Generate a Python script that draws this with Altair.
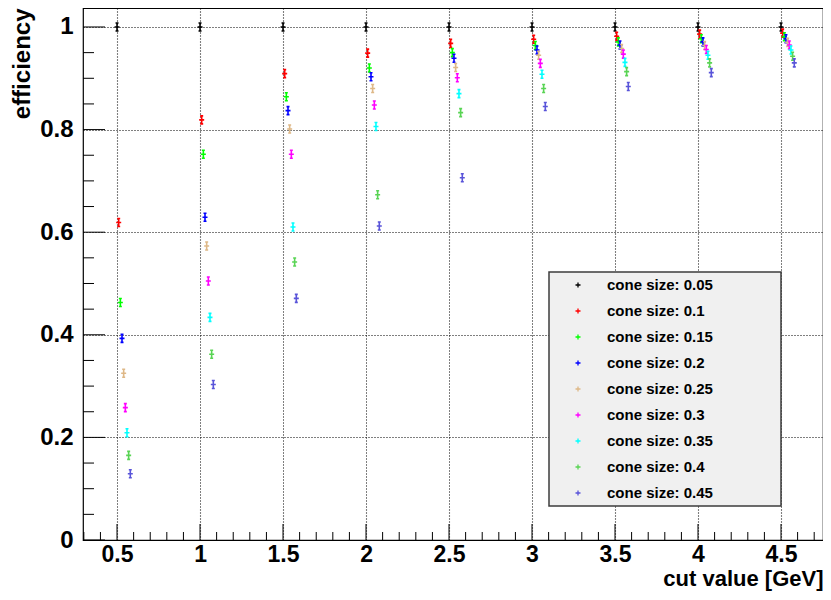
import altair as alt
import pandas as pd

# ---- data ----
cuts = [0.5, 1.0, 1.5, 2.0, 2.5, 3.0, 3.5, 4.0, 4.5]
cone_labels = ["cone size: 0.05", "cone size: 0.1", "cone size: 0.15", "cone size: 0.2",
               "cone size: 0.25", "cone size: 0.3", "cone size: 0.35", "cone size: 0.4",
               "cone size: 0.45"]
cone_offsets = [0.0, 0.01, 0.02, 0.03, 0.04, 0.05, 0.06, 0.07, 0.08]
colors = ["#000000", "#ff0000", "#00ff00", "#0000ff", "#deb887",
          "#ff00ff", "#00ffff", "#59d454", "#5954d9"]

eff_005 = [1.0, 1.0, 1.0, 1.0, 1.0, 1.0, 1.0, 1.0, 1.0]
eff_010 = [0.619, 0.819, 0.909, 0.949, 0.968, 0.976, 0.982, 0.986, 0.988]
eff_015 = [0.463, 0.752, 0.864, 0.920, 0.950, 0.964, 0.971, 0.977, 0.981]
eff_020 = [0.393, 0.629, 0.837, 0.903, 0.939, 0.955, 0.965, 0.971, 0.977]
eff_025 = [0.325, 0.573, 0.801, 0.880, 0.921, 0.945, 0.958, 0.964, 0.970]
eff_030 = [0.258, 0.505, 0.752, 0.848, 0.901, 0.929, 0.947, 0.956, 0.965]
eff_035 = [0.209, 0.434, 0.610, 0.806, 0.870, 0.908, 0.931, 0.945, 0.955]
eff_040 = [0.165, 0.362, 0.542, 0.673, 0.833, 0.880, 0.913, 0.930, 0.943]
eff_045 = [0.129, 0.303, 0.471, 0.612, 0.706, 0.845, 0.884, 0.911, 0.930]
series = [eff_005, eff_010, eff_015, eff_020, eff_025, eff_030, eff_035, eff_040, eff_045]

x_major = [0.5, 1, 1.5, 2, 2.5, 3, 3.5, 4, 4.5]
x_minor = [0.3, 0.4, 0.6, 0.7, 0.8, 0.9, 1.1, 1.2, 1.3, 1.4, 1.6, 1.7, 1.8, 1.9,
           2.1, 2.2, 2.3, 2.4, 2.6, 2.7, 2.8, 2.9, 3.1, 3.2, 3.3, 3.4, 3.6, 3.7,
           3.8, 3.9, 4.1, 4.2, 4.3, 4.4, 4.6, 4.7]
y_major = [0, 0.2, 0.4, 0.6, 0.8, 1]
y_minor = [0.05, 0.1, 0.15, 0.25, 0.3, 0.35, 0.45, 0.5, 0.55, 0.65, 0.7, 0.75,
           0.85, 0.9, 0.95]

rows = []
for lab, off, effs in zip(cone_labels, cone_offsets, series):
    for c, e in zip(cuts, effs):
        rows.append({"x": c + off, "eff": e, "cone": lab})
df = pd.DataFrame(rows)

FONT = "Liberation Sans"
W, H = 740, 532
xs = alt.Scale(domain=[0.295, 4.753], nice=False, zero=False)
ys = alt.Scale(domain=[0.0, 1.037], nice=False, zero=False)
cscale = alt.Scale(domain=cone_labels, range=colors)

xaxis = alt.Axis(values=x_major, labelExpr="'' + datum.value", ticks=False, tickSize=0,
                 domain=False, grid=True, gridColor="#000000", gridDash=[1, 2],
                 gridOpacity=1, gridWidth=1.1, labelFont=FONT, labelFontSize=23,
                 labelFontWeight="bold", labelColor="#000000", labelPadding=21,
                 labelBaseline="alphabetic", labelOverlap=False, labelFlush=False,
                 title="cut value [GeV]", titleFont=FONT, titleFontSize=22,
                 titleFontWeight="bold", titleColor="#000000", titleX=W, titleY=45,
                 titleAlign="right", titleBaseline="alphabetic")
yaxis = alt.Axis(values=y_major, labelExpr="'' + datum.value", ticks=False, tickSize=0,
                 domain=False, grid=True, gridColor="#000000", gridDash=[1, 2],
                 gridOpacity=1, gridWidth=1.1, labelFont=FONT, labelFontSize=24,
                 labelFontWeight="bold", labelColor="#000000", labelPadding=10,
                 labelAlign="right", labelBaseline="middle", labelOverlap=False,
                 labelFlush=False,
                 title="efficiency", titleFont=FONT, titleFontSize=24,
                 titleFontWeight="bold", titleColor="#000000", titleAngle=270,
                 titleX=-54, titleY=0, titleAlign="right", titleBaseline="alphabetic")

marker = "M-1,0H1M0,-1.6V1.6M-0.6,-1.6H0.6M-0.6,1.6H0.6"

points = alt.Chart(df).mark_point(shape=marker, filled=False, size=25, strokeWidth=1.6,
                                  opacity=1).encode(
    x=alt.X("x:Q", scale=xs, axis=xaxis),
    y=alt.Y("eff:Q", scale=ys, axis=yaxis),
    color=alt.Color("cone:N", scale=cscale, legend=None),
)

def yticks(vals, length):
    return alt.Chart(pd.DataFrame({"x": [1.0] * len(vals), "eff": vals})).mark_rule(
        color="#000000", strokeWidth=1).encode(
        y=alt.Y("eff:Q", scale=ys, axis=yaxis), x=alt.value(0), x2=alt.value(length))

def xticks(vals, length):
    return alt.Chart(pd.DataFrame({"x": vals})).mark_rule(color="#000000", strokeWidth=1).encode(
        x=alt.X("x:Q", scale=xs, axis=xaxis), y=alt.value(H), y2=alt.value(H - length))

main = alt.layer(points, yticks(y_major, 22), yticks(y_minor, 11),
                 xticks(x_major, 16), xticks(x_minor, 8))

# legend
leg_df = pd.DataFrame({"idx": list(range(len(cone_labels))), "cone": cone_labels})
lscale = alt.Scale(domain=[0, 8], range=[277, 485])
box = alt.Chart(pd.DataFrame({"a": [0]})).mark_rect(
    fill="#f0f0f0", stroke="#3c3c3c", strokeWidth=1.5).encode(
    x=alt.value(466), x2=alt.value(698), y=alt.value(264), y2=alt.value(498))
leg_marks = alt.Chart(leg_df).mark_point(shape="M-1,0H1M0,-1V1", filled=False, size=25,
                                         strokeWidth=1.3, opacity=1).encode(
    x=alt.value(495), y=alt.Y("idx:Q", scale=lscale, axis=None),
    color=alt.Color("cone:N", scale=cscale, legend=None))
leg_text = alt.Chart(leg_df).mark_text(align="left", baseline="middle", font=FONT,
                                       fontSize=15, fontWeight="bold", color="#000000").encode(
    x=alt.value(524), y=alt.Y("idx:Q", scale=lscale, axis=None), text="cone:N")
legend = alt.layer(box, leg_marks, leg_text)

chart = alt.layer(main, legend).resolve_scale(y="independent").properties(
    width=W, height=H,
    autosize=alt.AutoSizeParams(type="none"),
    padding={"left": 75, "top": 0, "right": 0, "bottom": 60},
    background="#ffffff",
).configure_view(stroke="#000000", strokeWidth=1.2, fill="#ffffff")

chart.save("out.html", embed_options={"renderer": "svg", "actions": False})
